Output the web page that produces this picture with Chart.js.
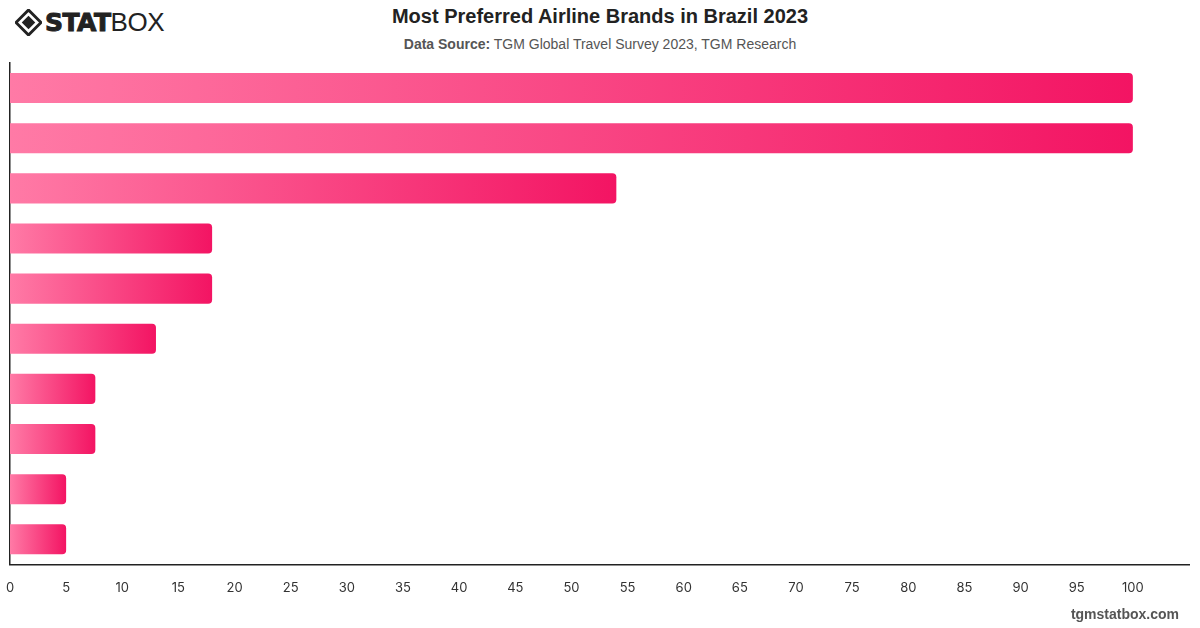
<!DOCTYPE html>
<html>
<head>
<meta charset="utf-8">
<script src="https://cdn.jsdelivr.net/npm/chart.js@4"></script>
<style>
  html, body { margin: 0; padding: 0; background: #fff; }
  body { width: 1200px; height: 628px; position: relative; overflow: hidden; font-family: "Liberation Sans", Arial, sans-serif; }
  #chart-wrap { position: absolute; left: 0; top: 0; width: 1200px; height: 628px; }
  .logo { position: absolute; left: 15px; top: 7px; height: 30px; display: flex; align-items: center; color: #222; }
  .logo svg { margin-right: 3px; }
  .logo .stat { font-family: "DejaVu Sans", sans-serif; font-weight: 900; font-size: 25px; letter-spacing: -0.5px; -webkit-text-stroke: 1px #222; }
  .logo .box { font-family: "Liberation Sans", sans-serif; font-weight: 300; font-size: 26px; letter-spacing: -0.5px; }
  .title { position: absolute; left: 0; width: 1200px; top: 5px; text-align: center; font-size: 20px; font-weight: bold; color: #222; }
  .subtitle { position: absolute; left: 0; width: 1200px; top: 36px; text-align: center; font-size: 14px; color: #555; }
  .subtitle b { color: #555; }
  .footer { position: absolute; right: 21px; top: 606px; font-size: 14px; font-weight: bold; color: #555; }
</style>
</head>
<body>
<div class="logo">
  <svg width="27" height="27" viewBox="0 0 28 28">
    <path d="M14 1 L27 14 L14 27 L1 14 Z" fill="none" stroke="#222" stroke-width="3"/>
    <path d="M14 7 L21 14 L14 21 L7 14 Z" fill="#222"/>
  </svg>
  <span class="stat">STAT</span><span class="box">BOX</span>
</div>
<div class="title">Most Preferred Airline Brands in Brazil 2023</div>
<div class="subtitle"><b>Data Source:</b> TGM Global Travel Survey 2023, TGM Research</div>
<div id="chart-wrap"><canvas id="chart"></canvas></div>
<div class="footer">tgmstatbox.com</div>
<script>
const brands = ['LATAM', 'GOL', 'Azul', 'TAP Air Portugal', 'American Airlines', 'Emirates', 'Air France', 'Copa Airlines', 'Delta', 'United Airlines'];
const scores = [100, 100, 54, 18, 18, 13, 7.6, 7.6, 5, 5];
const xTicks = [0, 5, 10, 15, 20, 25, 30, 35, 40, 45, 50, 55, 60, 65, 70, 75, 80, 85, 90, 95, 100];

function barGradient(context) {
    const chart = context.chart;
    const area = chart.chartArea;
    if (!area) return '#f5286e';
    const x = chart.scales.x;
    const v = context.raw || 0;
    const x0 = x.getPixelForValue(0);
    const x1 = x.getPixelForValue(v);
    const g = chart.ctx.createLinearGradient(x0, 0, Math.max(x1, x0 + 1), 0);
    g.addColorStop(0, '#ff7aa6');
    g.addColorStop(1, '#f31463');
    return g;
}

const ctx = document.getElementById('chart').getContext('2d');

new Chart(ctx, {
    type: 'bar',
    data: {
        labels: brands,
        datasets: [{
            data: scores,
            backgroundColor: barGradient,
            borderWidth: 0,
            borderRadius: 4,
            borderSkipped: 'start',
            categoryPercentage: 0.6,
            barPercentage: 1
        }]
    },
    options: {
        indexAxis: 'y',
        responsive: true,
        maintainAspectRatio: false,
        animation: false,
        layout: { padding: { top: 63, left: 10, right: 11, bottom: 16 } },
        plugins: {
            legend: { display: false },
            tooltip: { enabled: false }
        },
        scales: {
            x: {
                min: 0,
                max: 105,
                afterBuildTicks: function(axis) {
                    axis.ticks = xTicks.map(v => ({ value: v }));
                },
                afterFit: function(axis) {
                    axis.paddingLeft = 0;
                    axis.paddingRight = 0;
                },
                grid: { display: false, drawTicks: false },
                border: { display: true, color: '#222', width: 1.5 },
                ticks: {
                    color: '#333',
                    padding: 16,
                    font: { family: 'Inter', size: 13 }
                }
            },
            y: {
                afterFit: function(axis) { axis.width = 0; },
                grid: { display: false, drawTicks: false },
                border: { display: true, color: '#222', width: 1.5 },
                ticks: { display: false }
            }
        }
    }
});
</script>
</body>
</html>
